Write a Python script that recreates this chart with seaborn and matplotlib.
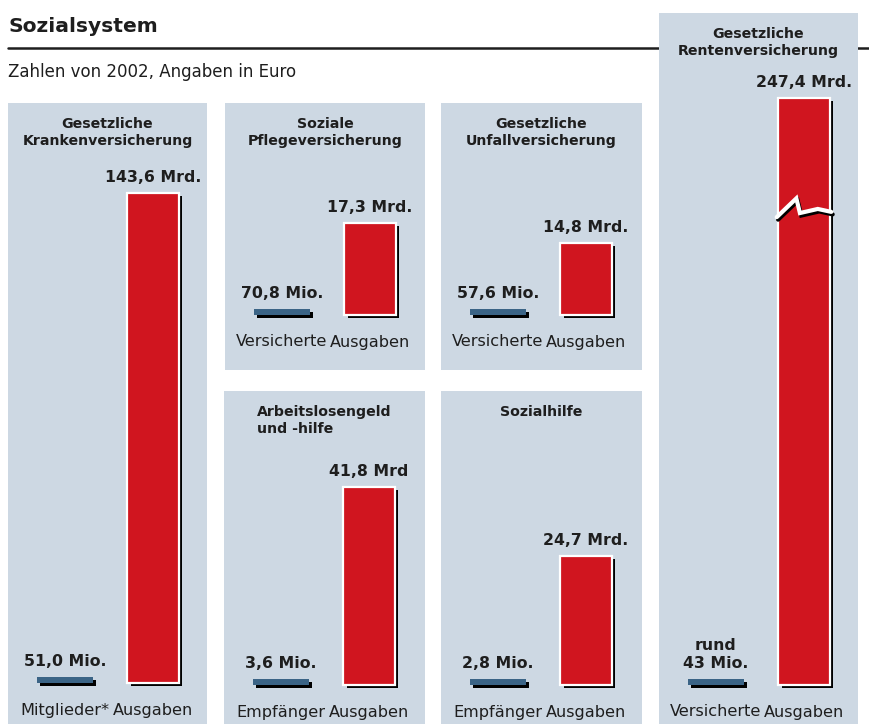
import numpy as np
import pandas as pd
import matplotlib
matplotlib.use('Agg')
import matplotlib.pyplot as plt
import matplotlib.patheffects as pe
from matplotlib.lines import Line2D
import seaborn as sns

sns.set_style('white')
plt.rcParams['font.family'] = ['DejaVu Sans']

# data
titles = ['Gesetzliche\nKrankenversicherung', 'Soziale\nPflegeversicherung',
          'Gesetzliche\nUnfallversicherung', 'Arbeitslosengeld\nund -hilfe',
          'Sozialhilfe', 'Gesetzliche\nRentenversicherung']
people_labels = ['Mitglieder*', 'Versicherte', 'Versicherte', 'Empfänger', 'Empfänger', 'Versicherte']
people_values = [51.0, 70.8, 57.6, 3.6, 2.8, 43]
people_texts = ['51,0 Mio.', '70,8 Mio.', '57,6 Mio.', '3,6 Mio.', '2,8 Mio.', 'rund\n43 Mio.']
spending = [143.6, 17.3, 14.8, 41.8, 24.7, 247.4]
spending_texts = ['143,6 Mrd.', '17,3 Mrd.', '14,8 Mrd.', '41,8 Mrd', '24,7 Mrd.', '247,4 Mrd.']

# layout in pixels (left, top, width, height), bar baseline and bar top
W, H = 870, 724
panels = [(8, 103, 199, 621), (225, 103, 200, 267), (441, 103, 201, 267),
          (224, 391, 201, 333), (441, 391, 201, 333), (659, 13, 199, 711)]
baselines = [683, 315, 315, 685, 685, 685]
bar_tops = [193, 223, 243, 487, 556, 98]

panel_color = '#cdd8e3'
red = '#d0151f'
blue = '#3b6486'
text_color = '#1e1e1e'
PT = 0.72  # points per pixel at 100 dpi

fig = plt.figure(figsize=(8.7, 7.24), dpi=100)
fig.patch.set_facecolor('white')

fig.text(8 / W, 1 - 27 / H, 'Sozialsystem', fontsize=14.6, fontweight='bold',
         color=text_color, va='center', ha='left')
fig.text(8 / W, 1 - 72 / H, 'Zahlen von 2002, Angaben in Euro', fontsize=12,
         color=text_color, va='center', ha='left')
fig.add_artist(Line2D([8 / W, 1.0], [1 - 47.5 / H, 1 - 47.5 / H], color=text_color,
                      lw=1.8, zorder=-1, transform=fig.transFigure))

bar_shadow = [pe.SimplePatchShadow(offset=(2.2, -2.2), shadow_rgbFace='black', alpha=1.0), pe.Normal()]

for i in range(6):
    x0, y0, w, h = panels[i]
    ax = fig.add_axes([x0 / W, 1 - (y0 + h) / H, w / W, h / H])
    ax.set_facecolor(panel_color)
    s = (baselines[i] - bar_tops[i]) / spending[i]

    df = pd.DataFrame({'kategorie': ['Ausgaben'], 'wert': [spending[i]]})
    sns.barplot(data=df, x='kategorie', y='wert', order=[people_labels[i], 'Ausgaben'],
                color=red, saturation=1, width=0.58, edgecolor='white', linewidth=1.6,
                errorbar=None, ax=ax)
    for p in ax.patches:
        p.set_path_effects(bar_shadow)
    ax.bar(0, 6 / s, width=0.63, color=blue, linewidth=0, path_effects=bar_shadow)

    ax.set_xlim(-57 / 88, (w - 57) / 88)
    ax.set_ylim(-(y0 + h - baselines[i]) / s, (baselines[i] - y0) / s)
    ax.set(xlabel='', ylabel='', xticks=[], yticks=[])
    sns.despine(ax=ax, left=True, bottom=True)

    # titles and labels
    ax.annotate(titles[i], xy=(0.5, 1), xycoords='axes fraction', xytext=(0, -14 * PT),
                textcoords='offset points', ha='center', va='top', fontsize=10.2,
                fontweight='bold', color=text_color, linespacing=1.3,
                multialignment='left' if i == 3 else 'center')
    ax.annotate(spending_texts[i], xy=(1, spending[i]), xytext=(0, 8 * PT),
                textcoords='offset points', ha='center', va='bottom', fontsize=11.3,
                fontweight='bold', color=text_color)
    ax.annotate(people_texts[i], xy=(0, 6 / s), xytext=(0, 8 * PT),
                textcoords='offset points', ha='center', va='bottom', fontsize=11.3,
                fontweight='bold', color=text_color, linespacing=1.25)
    for pos, lab in [(0, people_labels[i]), (1, 'Ausgaben')]:
        ax.annotate(lab, xy=(pos, 0), xytext=(0, -27 * PT), textcoords='offset points',
                    ha='center', va='center', fontsize=11.6, color=text_color)

    # break mark on the very long pension bar
    if i == 5:
        left, right = 1 - 0.29, 1 + 0.29
        xs = [left - 0.02, left + 0.35 * 0.58, left + 0.42 * 0.58, left + 0.77 * 0.58, right + 0.02]
        ys = [f * spending[i] for f in [0.797, 0.829, 0.804, 0.811, 0.806]]
        ax.plot(xs, ys, color='white', lw=3.0, solid_joinstyle='miter',
                path_effects=[pe.SimpleLineShadow(offset=(1.0, -1.8), shadow_color='black', alpha=1.0),
                              pe.Normal()])

fig.savefig('out.png', dpi=100, facecolor='white')
